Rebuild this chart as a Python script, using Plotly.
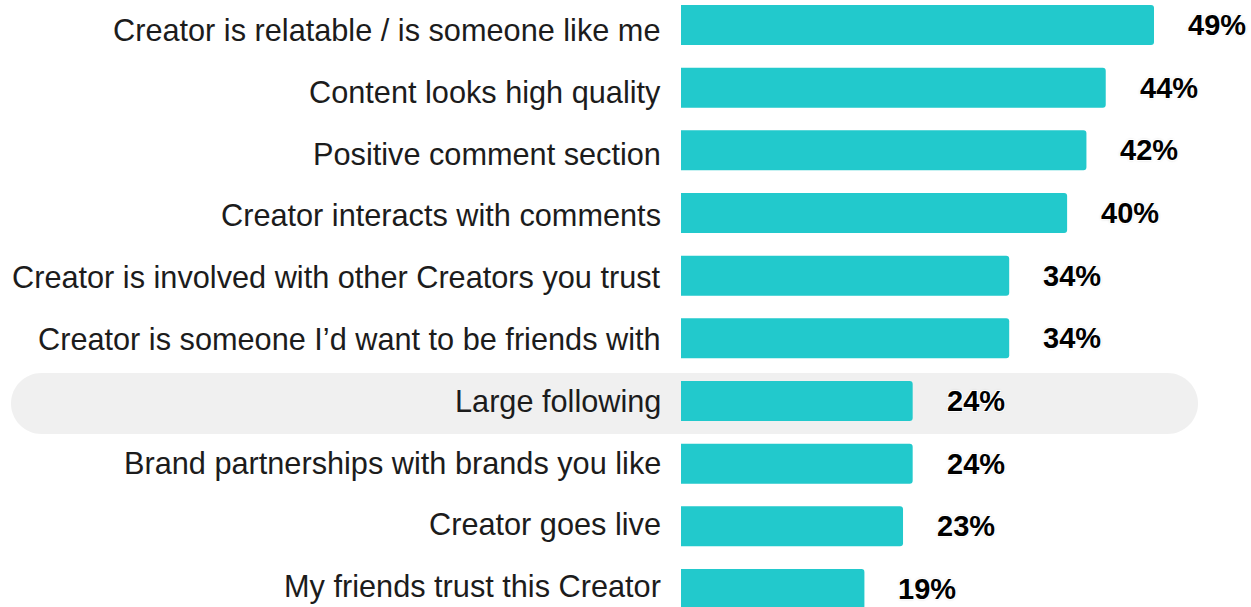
import plotly.graph_objects as go

# Reasons a creator feels trustworthy (share of respondents, %)
categories = [
    "Creator is relatable / is someone like me",
    "Content looks high quality",
    "Positive comment section",
    "Creator interacts with comments",
    "Creator is involved with other Creators you trust",
    "Creator is someone I\u2019d want to be friends with",
    "Large following",
    "Brand partnerships with brands you like",
    "Creator goes live",
    "My friends trust this Creator",
]
values = [49, 44, 42, 40, 34, 34, 24, 24, 23, 19]
value_labels = [f"{v}%" for v in values]
highlight_row = "Large following"

W, H = 1251, 607
LEFT = 681                 # pixel where bars start
PLOT_W = W - LEFT
PX_PER_UNIT = 9.653        # horizontal pixels per percentage point
ROW_PX = 62.67             # vertical spacing between bar rows
FIRST_ROW_PX = 25          # centre of first bar row
LABEL_ROW_PX = 61.8        # category labels sit on a slightly tighter grid
FIRST_LABEL_PX = 30.5

rows = list(range(len(categories)))
x_max = PLOT_W / PX_PER_UNIT
y_top = -FIRST_ROW_PX / ROW_PX
y_bot = (H - FIRST_ROW_PX) / ROW_PX

BAR_COLOR = "#22c9cc"
TEXT_FONT = "Liberation Sans, Arial, sans-serif"


def to_px_paper(px):
    return (px - LEFT) / PLOT_W


def to_y(py):
    return (py - FIRST_ROW_PX) / ROW_PX


fig = go.Figure()
fig.add_trace(go.Bar(
    x=values,
    y=rows,
    orientation="h",
    width=40 / ROW_PX,
    marker=dict(color=BAR_COLOR, line=dict(width=0)),
    hoverinfo="skip",
))

# category labels, right-aligned just left of the bars
for r, cat in zip(rows, categories):
    fig.add_annotation(
        x=0, y=to_y(FIRST_LABEL_PX + r * LABEL_ROW_PX), xref="paper", yref="y",
        text=cat, showarrow=False,
        xanchor="right", yanchor="middle", xshift=-18,
        font=dict(family=TEXT_FONT, size=30.7, color="#1c1c1c"),
    )

# value labels to the right of each bar
for r, v, lab in zip(rows, values, value_labels):
    fig.add_annotation(
        x=v, y=r, xref="x", yref="y",
        text=lab, showarrow=False,
        xanchor="left", yanchor="middle", xshift=32, yshift=0,
        font=dict(family=TEXT_FONT, size=29, color="#000000", weight="bold",
                  shadow="1px 1px 0 #fff, -1px -1px 0 #fff, 1px -1px 0 #fff, -1px 1px 0 #fff, 0 0 3px #bbb"),
    )

# rounded highlight band behind one row
hr = categories.index(highlight_row)
center_py = FIRST_ROW_PX + hr * ROW_PX + 2.5
band_h = 61
x0p, x1p = 11, 1198
y0p, y1p = center_py - band_h / 2, center_py + band_h / 2
rad = band_h / 2
k = 0.5523 * rad


def P(px, py):
    return f"{to_px_paper(px):.5f},{to_y(py):.5f}"


path = (
    f"M {P(x0p + rad, y0p)} L {P(x1p - rad, y0p)} "
    f"C {P(x1p - rad + k, y0p)} {P(x1p, y0p + rad - k)} {P(x1p, y0p + rad)} "
    f"C {P(x1p, y0p + rad + k)} {P(x1p - rad + k, y1p)} {P(x1p - rad, y1p)} "
    f"L {P(x0p + rad, y1p)} "
    f"C {P(x0p + rad - k, y1p)} {P(x0p, y1p - rad + k)} {P(x0p, y1p - rad)} "
    f"C {P(x0p, y0p + rad - k)} {P(x0p + rad - k, y0p)} {P(x0p + rad, y0p)} Z"
)
fig.add_shape(type="path", path=path, xref="paper", yref="y",
              fillcolor="#f0f0f0", line=dict(width=0), layer="below")

fig.update_layout(
    width=W, height=H,
    margin=dict(l=LEFT, r=0, t=0, b=0),
    paper_bgcolor="white", plot_bgcolor="rgba(0,0,0,0)",
    showlegend=False,
    barcornerradius=3,
    xaxis=dict(range=[0, x_max], visible=False, fixedrange=True),
    yaxis=dict(range=[y_bot, y_top], visible=False, fixedrange=True),
)

fig.write_html("out.html")
